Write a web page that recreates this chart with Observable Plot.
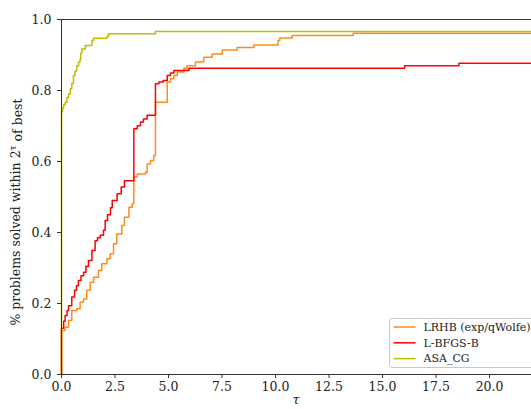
<!DOCTYPE html>
<html>
<head>
<meta charset="utf-8">
<script src="https://cdn.jsdelivr.net/npm/d3@7"></script>
<script src="https://cdn.jsdelivr.net/npm/@observablehq/plot@0.6"></script>
<style>
  html, body { margin: 0; padding: 0; background: #fff; }
  #chart { width: 531px; height: 409px; overflow: hidden; }
  #chart svg text { font-family: 'DejaVu Serif', serif; }
</style>
</head>
<body>
<div id="chart"></div>
<script>
// ---- data ----
const seriesNames = ["LRHB (exp/qWolfe)", "L-BFGS-B", "ASA_CG"];
const seriesColors = ["#ff8c1a", "#ff0000", "#bfbf00"];

const lrhbTau = [0, 0, 0.17, 0.33, 0.48, 0.71, 0.87, 1.03, 1.18, 1.34, 1.5, 1.73, 1.88, 2.12, 2.27, 2.43, 2.58, 2.82, 2.94, 3.15, 3.3, 3.38, 3.54, 3.93, 4.0, 4.16, 4.31, 4.39, 4.94, 5.09, 5.25, 5.41, 5.72, 5.87, 6.26, 6.65, 7.04, 7.51, 8.21, 8.99, 10.11, 10.2, 10.78, 13.63, 21.96];
const lrhbVal = [0, 0.124, 0.133, 0.152, 0.180, 0.185, 0.204, 0.213, 0.237, 0.260, 0.274, 0.293, 0.312, 0.326, 0.340, 0.368, 0.396, 0.420, 0.443, 0.471, 0.481, 0.556, 0.565, 0.570, 0.593, 0.603, 0.617, 0.767, 0.824, 0.833, 0.842, 0.852, 0.863, 0.870, 0.880, 0.894, 0.903, 0.914, 0.921, 0.928, 0.941, 0.948, 0.955, 0.961, 0.961];

const lbfgsTau = [0, 0, 0.10, 0.17, 0.26, 0.33, 0.48, 0.61, 0.70, 0.79, 0.91, 1.03, 1.14, 1.26, 1.42, 1.57, 1.68, 1.81, 1.96, 2.04, 2.15, 2.29, 2.37, 2.60, 2.79, 2.94, 3.38, 3.54, 3.69, 3.83, 4.0, 4.39, 4.55, 4.75, 4.94, 5.09, 5.25, 5.95, 16.03, 18.57, 21.96];
const lbfgsVal = [0, 0.130, 0.150, 0.166, 0.180, 0.194, 0.218, 0.237, 0.250, 0.265, 0.278, 0.288, 0.305, 0.321, 0.349, 0.377, 0.385, 0.392, 0.406, 0.434, 0.450, 0.470, 0.490, 0.509, 0.528, 0.546, 0.692, 0.701, 0.711, 0.720, 0.730, 0.819, 0.824, 0.828, 0.842, 0.849, 0.856, 0.863, 0.870, 0.877, 0.877];

const asaTau = [0, 0, 0.05, 0.10, 0.17, 0.25, 0.33, 0.41, 0.48, 0.56, 0.63, 0.71, 0.80, 0.87, 0.90, 0.95, 1.11, 1.42, 1.50, 2.12, 2.20, 4.39, 21.96];
const asaVal = [0, 0.740, 0.750, 0.760, 0.767, 0.780, 0.790, 0.805, 0.820, 0.842, 0.855, 0.870, 0.880, 0.889, 0.905, 0.917, 0.927, 0.941, 0.947, 0.953, 0.960, 0.966, 0.966];

const xTicks = [0, 2.5, 5, 7.5, 10, 12.5, 15, 17.5, 20];
const yTicks = [0, 0.2, 0.4, 0.6, 0.8, 1.0];

// ---- build table ----
const taus = [lrhbTau, lbfgsTau, asaTau];
const vals = [lrhbVal, lbfgsVal, asaVal];
const rows = [];
seriesNames.forEach((name, i) => {
  taus[i].forEach((t, j) => rows.push({series: name, tau: t, value: vals[i][j]}));
});

const W = 531, H = 409;
const font = "'DejaVu Serif', serif";
const fmt = d3.format(".1f");

const chart = Plot.plot({
  width: W,
  height: H,
  marginLeft: 61,
  marginRight: 0,
  marginTop: 19,
  marginBottom: 35,
  style: {fontFamily: font, fontSize: "12.5px", color: "#000", background: "#fff", overflow: "hidden"},
  x: {domain: [0, 21.96], label: null},
  y: {domain: [0, 1], label: null},
  color: {domain: seriesNames, range: seriesColors},
  marks: [
    Plot.line(rows, {x: "tau", y: "value", z: "series", stroke: "series", curve: "step-after", strokeWidth: 1.5}),
    Plot.ruleX([0], {stroke: "#333", strokeWidth: 1}),
    Plot.ruleY([0, 1], {stroke: "#333", strokeWidth: 1}),
    Plot.axisX({ticks: xTicks, tickFormat: fmt, tickSize: 4, tickPadding: 4, stroke: "#333", fill: "#222", fontFamily: font}),
    Plot.axisY({ticks: yTicks, tickFormat: fmt, tickSize: 4, tickPadding: 6, stroke: "#333", fill: "#222", fontFamily: font})
  ]
});

document.getElementById("chart").appendChild(chart);

const svg = d3.select(chart);

// y-axis label with superscript tau
const yl = svg.append("text")
  .attr("transform", `translate(20,212) rotate(-90)`)
  .attr("text-anchor", "middle")
  .style("font-family", font)
  .attr("font-size", "12.5px")
  .attr("fill", "#222");
yl.append("tspan").text("% problems solved within 2");
yl.append("tspan").attr("dy", "-0.45em").attr("font-size", "9px").text("τ");
yl.append("tspan").attr("dy", "0.45em").text(" of best");

// x-axis label
svg.append("text")
  .attr("x", (61 + W) / 2)
  .attr("y", 404)
  .attr("text-anchor", "middle")
  .style("font-family", font)
  .attr("font-style", "italic")
  .attr("font-size", "12.5px")
  .attr("fill", "#222")
  .text("τ");

// legend
const lg = svg.append("g").attr("transform", "translate(389.5,318.5)");
lg.append("rect")
  .attr("width", 150).attr("height", 49)
  .attr("rx", 2.5)
  .style("fill", "rgba(255,255,255,0.85)")
  .style("stroke", "#c8c8c8").style("stroke-width", "1px");
seriesNames.forEach((name, i) => {
  const y = 8.5 + i * 15.8;
  lg.append("line")
    .attr("x1", 4).attr("x2", 26).attr("y1", y).attr("y2", y)
    .style("stroke", seriesColors[i]).style("stroke-width", "1.5px");
  lg.append("text")
    .attr("x", 34).attr("y", y).attr("dy", "0.35em")
    .attr("text-anchor", "start")
    .style("font-family", font).attr("font-size", "11px").attr("fill", "#222")
    .text(name);
});
</script>
</body>
</html>
